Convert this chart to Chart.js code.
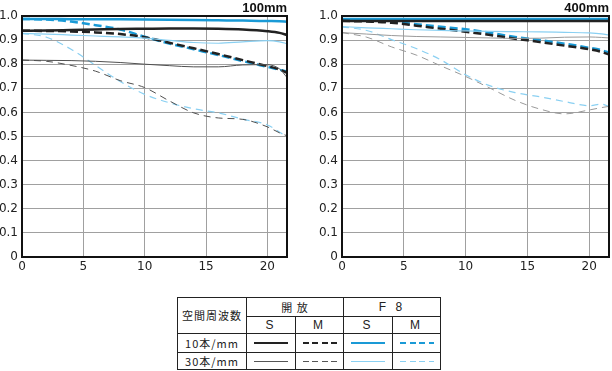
<!DOCTYPE html>
<html>
<head>
<meta charset="utf-8">
<script src="https://cdn.jsdelivr.net/npm/chart.js@4"></script>
<style>
  body { margin: 0; background: #fff; width: 612px; height: 371px; position: relative; overflow: hidden; }
  canvas { position: absolute; top: 0; }
  .ttl { position: absolute; top: 0; font: bold 13px "Liberation Sans", Arial, sans-serif; color: #111; }
  #legend { position: absolute; left: 177px; top: 297px; border-collapse: collapse; table-layout: fixed;
            font: 11px "Noto Sans CJK JP", sans-serif; color: #222; }
  #legend td { border: 1px solid #222; text-align: center; padding: 0; letter-spacing: 1px; line-height: 1; }
  #legend td.lat { font: 12px "Liberation Sans", Arial, sans-serif; letter-spacing: 3px; }
  .ln { width: 34px; margin: 0 auto; }
</style>
</head>
<body>
<canvas id="c100" width="300" height="280" style="left:0"></canvas>
<canvas id="c400" width="302" height="280" style="left:310px"></canvas>
<div class="ttl" style="right:325px">100mm</div>
<div class="ttl" style="right:3px">400mm</div>
<table id="legend"></table>
<script>
// image height (mm from centre)
const imageHeight = [0, 2, 4, 6, 8, 10, 12, 14, 16, 18, 20, 21, 21.6];

// 100mm
const w_open10S = [0.939,0.940,0.942,0.944,0.946,0.947,0.948,0.948,0.947,0.944,0.937,0.930,0.921];
const w_open10M = [0.939,0.938,0.936,0.932,0.925,0.912,0.889,0.866,0.842,0.817,0.792,0.778,0.765];
const w_f8_10S  = [0.988,0.988,0.987,0.987,0.986,0.985,0.984,0.983,0.982,0.981,0.979,0.978,0.976];
const w_f8_10M  = [0.988,0.985,0.977,0.962,0.944,0.914,0.886,0.862,0.838,0.813,0.789,0.777,0.769];
const w_open30S = [0.817,0.816,0.815,0.812,0.807,0.800,0.794,0.789,0.789,0.797,0.798,0.780,0.745];
const w_open30M = [0.817,0.812,0.795,0.771,0.732,0.703,0.648,0.598,0.577,0.571,0.540,0.515,0.503];
const w_f8_30S  = [0.928,0.925,0.921,0.917,0.913,0.908,0.899,0.890,0.887,0.893,0.898,0.893,0.885];
const w_f8_30M  = [0.928,0.912,0.862,0.795,0.728,0.675,0.640,0.615,0.598,0.572,0.548,0.518,0.497];

// 400mm
const t_open10S = [0.979,0.979,0.979,0.979,0.979,0.979,0.979,0.979,0.979,0.979,0.979,0.979,0.979];
const t_open10M = [0.980,0.977,0.972,0.960,0.947,0.935,0.921,0.906,0.892,0.877,0.862,0.851,0.840];
const t_f8_10S  = [0.988,0.988,0.988,0.988,0.988,0.988,0.988,0.988,0.988,0.988,0.988,0.988,0.988];
const t_f8_10M  = [0.982,0.980,0.976,0.966,0.955,0.945,0.930,0.913,0.900,0.885,0.868,0.858,0.848];
const t_open30S = [0.931,0.925,0.919,0.915,0.913,0.911,0.909,0.907,0.908,0.912,0.913,0.911,0.909];
const t_open30M = [0.931,0.912,0.872,0.838,0.793,0.749,0.700,0.650,0.614,0.594,0.610,0.620,0.625];
const t_f8_30S  = [0.956,0.951,0.947,0.943,0.940,0.938,0.936,0.935,0.934,0.932,0.930,0.926,0.921];
const t_f8_30M  = [0.955,0.940,0.902,0.865,0.818,0.756,0.710,0.682,0.665,0.645,0.628,0.634,0.625];

const xTicks = [0, 5, 10, 15, 20];
const yTicks = [0, 0.1, 0.2, 0.3, 0.4, 0.5, 0.6, 0.7, 0.8, 0.9, 1.0];

const BLACK = '#222', BLUE = '#1a9ad6', LBLUE = '#8ad0f2';

function pts(arr) {
  return arr.map((v, i) => ({x: imageHeight[i], y: v}));
}

function line(arr, color, width, dash) {
  return {data: pts(arr), borderColor: color, borderWidth: width, borderDash: dash,
          pointRadius: 0, fill: false, cubicInterpolationMode: 'monotone'};
}

const boxPlugin = {
  id: 'box',
  afterDraw(chart) {
    const a = chart.chartArea, ctx = chart.ctx;
    ctx.save();
    ctx.strokeStyle = '#111';
    ctx.lineWidth = 2;
    ctx.strokeRect(a.left, a.top, a.right - a.left, a.bottom - a.top);
    ctx.restore();
  }
};

function makeChart(id, s, yWidth, padRight, gray) {
  const datasets = [
    line(s[4], gray, 1, []),
    line(s[5], gray, 1, [7, 5]),
    line(s[6], LBLUE, 1.2, []),
    line(s[7], LBLUE, 1.2, [7, 5]),
    line(s[0], BLACK, 2.5, []),
    line(s[1], BLACK, 2.5, [8, 4]),
    line(s[2], BLUE, 2.5, []),
    line(s[3], BLUE, 2.5, [8, 4]),
  ];
  return new Chart(document.getElementById(id), {
    type: 'line',
    data: {datasets: datasets},
    options: {
      responsive: false,
      animation: false,
      layout: {padding: {top: 16, right: padRight, left: 0, bottom: 0}},
      plugins: {legend: {display: false}, tooltip: {enabled: false}},
      scales: {
        x: {
          type: 'linear', min: 0, max: 21.6,
          afterBuildTicks: sc => { sc.ticks = xTicks.map(v => ({value: v})); },
          afterFit: sc => { sc.height = 23; },
          grid: {color: '#a0a0a0', drawTicks: false},
          border: {color: '#111', width: 2},
          ticks: {padding: 3, color: '#222', font: {family: 'DejaVu Sans', size: 12}, maxRotation: 0}
        },
        y: {
          min: 0, max: 1,
          afterBuildTicks: sc => { sc.ticks = yTicks.map(v => ({value: v})); },
          afterFit: sc => { sc.width = yWidth; },
          grid: {color: '#a0a0a0', drawTicks: false},
          border: {color: '#111', width: 2},
          ticks: {padding: 4, color: '#222', font: {family: 'DejaVu Sans', size: 12},
                  callback: v => v === 0 ? '0' : v.toFixed(1)}
        }
      }
    },
    plugins: [boxPlugin]
  });
}

makeChart('c100', [w_open10S, w_open10M, w_f8_10S, w_f8_10M, w_open30S, w_open30M, w_f8_30S, w_f8_30M], 22, 13, '#505050');
makeChart('c400', [t_open10S, t_open10M, t_f8_10S, t_f8_10M, t_open30S, t_open30M, t_f8_30S, t_f8_30M], 32, 3, '#9a9a9a');

// legend table
const stops = ['開 放', 'F 8'];
const kinds = ['S', 'M'];
const freqs = ['10本/mm', '30本/mm'];

function sample(color, thick, dashed) {
  const h = thick ? 2 : 1;
  const bg = dashed
    ? `repeating-linear-gradient(to right, ${color} 0 6px, transparent 6px 9.5px)`
    : color;
  return `<div class="ln" style="height:${h}px;background:${bg}"></div>`;
}

const lineColors = [BLACK, BLUE];
const thinColors = ['#555', LBLUE];

let html = `<colgroup><col style="width:69px"><col style="width:49px"><col style="width:48px">
  <col style="width:49px"><col style="width:48px"></colgroup>
  <tr style="height:19px"><td rowspan="2">空間周波数</td>
  <td colspan="2">${stops[0]}</td><td colspan="2" class="lat">${stops[1]}</td></tr>
  <tr style="height:17px"><td class="lat">${kinds[0]}</td><td class="lat">${kinds[1]}</td>
  <td class="lat">${kinds[0]}</td><td class="lat">${kinds[1]}</td></tr>`;
freqs.forEach((f, r) => {
  html += `<tr style="height:${r === 0 ? 19 : 17}px"><td>${f}</td>`;
  for (let s = 0; s < 2; s++) {
    for (let k = 0; k < 2; k++) {
      const c = r === 0 ? lineColors[s] : thinColors[s];
      html += `<td>${sample(c, r === 0, k === 1)}</td>`;
    }
  }
  html += '</tr>';
});
document.getElementById('legend').innerHTML = html;
</script>
</body>
</html>
